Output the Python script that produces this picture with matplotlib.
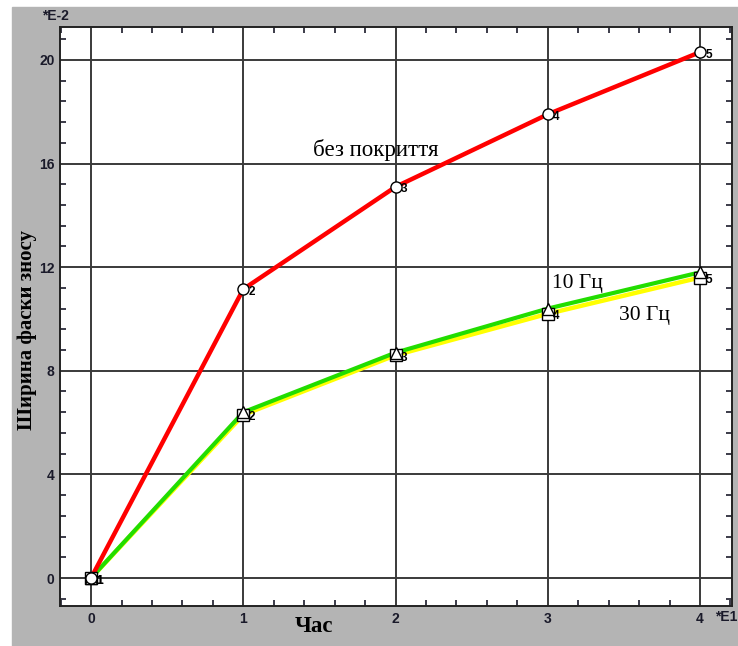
import numpy as np
import matplotlib.pyplot as plt
from matplotlib.patches import Rectangle
from matplotlib.ticker import MultipleLocator

# Дані
hours = np.array([0, 1, 2, 3, 4])  # *E1
no_coat = np.array([0.0, 11.15, 15.1, 17.9, 20.3])  # *E-2
hz10 = np.array([0.0, 6.4, 8.7, 10.4, 11.8])
hz30 = np.array([0.0, 6.3, 8.6, 10.2, 11.6])
point_ids = ["1", "2", "3", "4", "5"]

fig = plt.figure(figsize=(7.38, 6.46), dpi=100)
fig.patch.set_facecolor("white")
fig.patches.append(Rectangle((12 / 738, 0), 1 - 12 / 738, 1 - 7 / 646,
                             transform=fig.transFigure, color="#b4b4b4", zorder=-5))

ax = fig.add_axes([60 / 738, 1 - 606 / 646, 672 / 738, 579 / 646])
ax.set_zorder(1)
ax.set_facecolor("white")

ax.plot(hours, hz30, color="#ffff00", lw=3.2, zorder=3)
ax.plot(hours, hz10, color="#22dd00", lw=3.0, zorder=3.5)
ax.plot(hours, no_coat, color="#ff0000", lw=3.2, zorder=4)

ax.plot(hours, hz30, ls="none", marker="s", ms=9, mfc="white", mec="black", mew=1, zorder=5)
ax.plot(hours, hz10, ls="none", marker="^", ms=9, mfc="white", mec="black", mew=1, zorder=5)
ax.plot(hours, no_coat, ls="none", marker="o", ms=8, mfc="white", mec="black", mew=1, zorder=5)

for xi, yi, s in zip(hours, no_coat, point_ids):
    ax.annotate(s, (xi, yi), xytext=(4, -4), textcoords="offset points",
                fontsize=8.5, fontweight="bold", family="Liberation Sans", zorder=6)
for xi, yi, s in zip(hours, hz30, point_ids):
    ax.annotate(s, (xi, yi), xytext=(4, -4), textcoords="offset points",
                fontsize=8.5, fontweight="bold", family="Liberation Sans", zorder=6)

ax.set_xlim(-0.204, 4.21)
ax.set_ylim(-1.08, 21.27)
ax.xaxis.set_major_locator(MultipleLocator(1))
ax.xaxis.set_minor_locator(MultipleLocator(0.2))
ax.yaxis.set_major_locator(MultipleLocator(4))
ax.yaxis.set_minor_locator(MultipleLocator(0.8))
ax.tick_params(which="both", direction="in", top=True, right=True,
               labelsize=10, colors="#1a1a2a", width=1.2)
ax.tick_params(which="major", length=0, pad=4)
ax.tick_params(which="minor", length=4)
for lab in ax.get_xticklabels() + ax.get_yticklabels():
    lab.set_fontweight("bold")
    lab.set_family("Liberation Sans")
ax.grid(True, which="major", color="#3a3a3a", lw=1.4)
for sp in ax.spines.values():
    sp.set_linewidth(1.4)
    sp.set_color("#222222")

ax.set_ylabel("Ширина фаски зносу", fontsize=15, fontweight="bold",
              family="Liberation Serif")
ax.yaxis.set_label_coords(-23 / 672, 0.477)
ax.set_xlabel("Час", fontsize=16.5, fontweight="bold", family="Liberation Serif")
ax.xaxis.set_label_coords(0.378, -0.018)

ax.text(1.46, 16.3, "без покриття", fontsize=16.5, family="Liberation Serif")
ax.text(3.03, 11.2, "10 Гц", fontsize=15.5, family="Liberation Serif")
ax.text(3.47, 9.96, "30 Гц", fontsize=15.5, family="Liberation Serif")

fig.text(42 / 738, 1 - 16 / 646, "*E-2", fontsize=10, fontweight="bold",
         family="Liberation Sans", color="#1a1a2a", va="center")
fig.text(737 / 738, 1 - 617 / 646, "*E1", fontsize=10, fontweight="bold",
         family="Liberation Sans", color="#1a1a2a", va="center", ha="right")

fig.savefig("out.png", dpi=100)
